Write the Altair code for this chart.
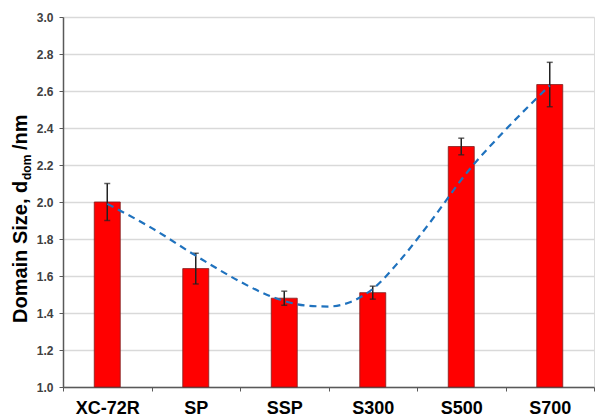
import altair as alt
import pandas as pd

# Samples and measured domain sizes (nm) with error-bar half widths
samples = ["XC-72R", "SP", "SSP", "S300", "S500", "S700"]
domain_size = [2.00, 1.64, 1.48, 1.51, 2.30, 2.635]
error = [0.10, 0.083, 0.038, 0.035, 0.045, 0.12]

# Trend curve read at positions along the sample axis (0 = first sample)
trend_pos = [0.0, 0.5, 1.0, 1.5, 1.75, 2.0, 2.25, 2.5, 2.75, 3.0, 3.3, 3.6, 4.1, 4.5, 5.0]
trend_val = [1.99, 1.86, 1.71, 1.57, 1.51, 1.465, 1.44, 1.435, 1.46, 1.53, 1.68, 1.86, 2.18, 2.39, 2.63]

y_ticks = [1.0, 1.2, 1.4, 1.6, 1.8, 2.0, 2.2, 2.4, 2.6, 2.8, 3.0]

bars_df = pd.DataFrame({
    "sample": samples,
    "size": domain_size,
    "lo": [v - e for v, e in zip(domain_size, error)],
    "hi": [v + e for v, e in zip(domain_size, error)],
})
trend_df = pd.DataFrame({"pos": trend_pos, "val": trend_val})

FONT = "Liberation Sans"
y_scale = alt.Scale(domain=[y_ticks[0], y_ticks[-1]], nice=False, zero=False)
y_axis = alt.Axis(
    title=None, values=y_ticks,
    format=".1f", labelFont=FONT, labelFontSize=12, labelFontWeight="bold",
    labelColor="#404040", labelPadding=6, tickSize=4, tickColor="#595959",
    labelOverlap=False,
    domainColor="#595959", domainWidth=1.5, gridColor="#D9D9D9", gridWidth=1.5,
)
x_band = alt.X(
    "sample:N",
    sort=samples,
    scale=alt.Scale(paddingInner=0, paddingOuter=0),
    axis=alt.Axis(
        title=None, labelAngle=0, tickBand="extent", labelFont=FONT,
        labelFontSize=18, labelFontWeight="bold", labelColor="#000000",
        labelPadding=8, tickSize=4, tickColor="#595959",
        domainColor="#595959", domainWidth=1.5, grid=False,
    ),
)

base = alt.Chart(bars_df)
bars = base.mark_bar(
    width=26, color="#FF0000", stroke="#7F1F1F", strokeWidth=0.8
).encode(
    x=x_band,
    y=alt.Y("size:Q", scale=y_scale, axis=y_axis),
    y2=alt.datum(y_ticks[0]),
)

err_rule = base.mark_rule(color="#222222", strokeWidth=1.5).encode(
    x=x_band, y=alt.Y("lo:Q", scale=y_scale, axis=y_axis), y2="hi:Q"
)
cap_hi = base.mark_tick(color="#222222", thickness=1.5, size=6).encode(
    x=x_band, y=alt.Y("hi:Q", scale=y_scale, axis=y_axis)
)
cap_lo = base.mark_tick(color="#222222", thickness=1.5, size=6).encode(
    x=x_band, y=alt.Y("lo:Q", scale=y_scale, axis=y_axis)
)
bar_layer = alt.layer(bars, err_rule, cap_hi, cap_lo)

trend = alt.Chart(trend_df).mark_line(
    color="#1F72BE", strokeWidth=2.2, strokeDash=[7, 5], interpolate="monotone"
).encode(
    x=alt.X("pos:Q", scale=alt.Scale(domain=[-0.5, 5.5], nice=False, zero=False), axis=None),
    y=alt.Y("val:Q", scale=y_scale, axis=y_axis),
)

# Rotated y-axis title with a subscript "dom"
title_df = pd.DataFrame({"t": [0]})
title_main = alt.Chart(title_df).mark_text(
    text="Domain Size, d", angle=270, align="left", baseline="alphabetic",
    font=FONT, fontSize=20, fontWeight="bold", color="#000000",
).encode(x=alt.value(-36), y=alt.value(306))
title_sub = alt.Chart(title_df).mark_text(
    text="dom", angle=270, align="left", baseline="alphabetic",
    font=FONT, fontSize=12, fontWeight="bold", color="#000000",
).encode(x=alt.value(-32), y=alt.value(163))
title_unit = alt.Chart(title_df).mark_text(
    text="/nm", angle=270, align="left", baseline="alphabetic",
    font=FONT, fontSize=20, fontWeight="bold", color="#000000",
).encode(x=alt.value(-36), y=alt.value(133))

chart = alt.layer(
    bar_layer, trend, title_main, title_sub, title_unit
).resolve_scale(x="independent").properties(
    width=531, height=370,
    autosize=alt.AutoSizeParams(type="none"),
    padding={"left": 63, "top": 17, "right": 1, "bottom": 31},
).configure_view(stroke=None).configure(background="#FFFFFF")

chart.save("out.html", embed_options={"renderer": "svg", "actions": False})
